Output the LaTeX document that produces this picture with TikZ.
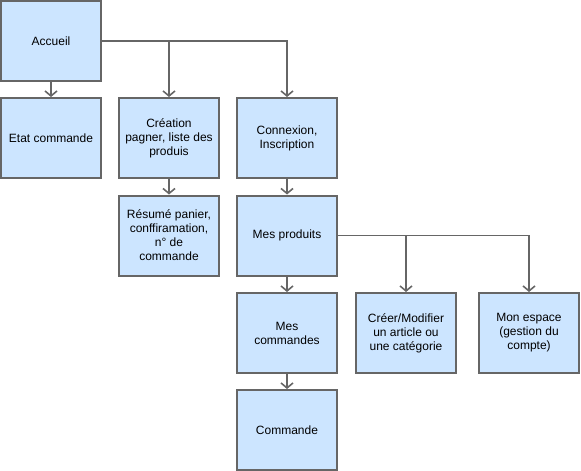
\documentclass[tikz,border=0pt]{standalone}
\usepackage{fontspec}
\setmainfont{Liberation Sans}
\usetikzlibrary{arrows.meta}
\definecolor{boxfill}{HTML}{CCE5FF}
\definecolor{linegray}{HTML}{666666}
\begin{document}
\begin{tikzpicture}[x=1pt,y=-1pt,
  box/.style={draw=linegray, line width=2pt, fill=boxfill, minimum width=100pt, minimum height=80pt,
    inner sep=2pt, align=center, font=\fontsize{12}{14}\selectfont, text=black},
  conn/.style={draw=linegray, line width=1.6pt, -{Straight Barb[length=5pt,width=12pt,line width=1.6pt]}}]
\useasboundingbox (0,0) rectangle (581,471);
\node[box] (acc) at (51,41) {Accueil};
\node[box] (etat) at (51,138) {Etat commande};
\node[box] (crea) at (169,138) {Création\\pagner, liste des\\produis};
\node[box] (conx) at (287,138) {Connexion,\\Inscription};
\node[box] (resu) at (169,235.5) {Résumé panier,\\conffiramation,\\n° de\\commande};
\node[box] (prod) at (287,235.5) {Mes produits};
\node[box] (cmds) at (287,333) {Mes\\commandes};
\node[box] (crm) at (406,333) {Créer/Modifier\\un article ou\\une catégorie};
\node[box] (esp) at (529,333) {Mon espace\\(gestion du\\compte)};
\node[box] (cmd) at (287,430) {Commande};
\coordinate (j1) at (169,41);
\coordinate (j2) at (406,235.5);
\draw[conn] (acc) -- (etat);
\draw[conn] (acc.east) -| (conx.north);
\draw[conn] (j1) -- (crea.north);
\draw[conn] (crea) -- (resu);
\draw[conn] (conx) -- (prod);
\draw[conn] (prod) -- (cmds);
\draw[conn] (cmds) -- (cmd);
\draw[conn] (prod.east) -| (esp.north);
\draw[conn] (j2) -- (crm.north);
\end{tikzpicture}
\end{document}
